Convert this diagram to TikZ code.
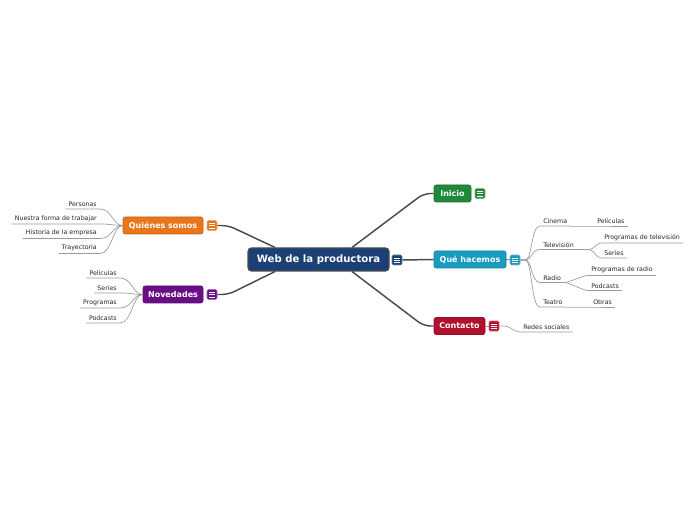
\documentclass[tikz,border=0pt]{standalone}
\usepackage{fontspec}
\setmainfont{DejaVu Sans}
\usetikzlibrary{calc}
\definecolor{rootblue}{RGB}{27,64,117}
\definecolor{inigreen}{RGB}{31,136,58}
\definecolor{qhteal}{RGB}{25,155,192}
\definecolor{ctred}{RGB}{176,17,45}
\definecolor{qsorange}{RGB}{233,118,26}
\definecolor{nvpurple}{RGB}{106,14,134}
\definecolor{linkgray}{RGB}{75,75,75}
\definecolor{twiggray}{RGB}{155,155,155}

\tikzset{
  topic/.style={fill=#1, draw=#1!85!black, rounded corners=1.5pt, text=white,
    font=\bfseries\fontsize{6}{7}\selectfont, minimum height=12.75pt, inner sep=0pt},
  icon/.style={fill=#1, draw=#1!60!white, rounded corners=1pt, minimum size=7.5pt, inner sep=0pt,
    path picture={\foreach \k in {-1.7,0,1.7}
      \draw[white, line width=0.3pt] ([shift={(-2.1pt,\k pt)}]path picture bounding box.center)
        -- ([shift={(2.1pt,\k pt)}]path picture bounding box.center);}},
  sub/.style={font=\fontsize{4.7}{5.5}\selectfont, text=black!85, inner xsep=2.25pt, inner ysep=1.6pt},
  link/.style={draw=linkgray, line width=1.1pt},
  twig/.style={draw=twiggray, line width=0.5pt}
}

\begin{document}
\begin{tikzpicture}[x=0.75pt, y=-0.75pt]
  \useasboundingbox[fill=white] (0,0) rectangle (696,520);

  % central topic
  \node[topic=rootblue, draw=black!70, line width=0.8pt, rounded corners=2.5pt, minimum width=105.75pt,
    minimum height=17.25pt, font=\bfseries\fontsize{7.6}{9}\selectfont] (root) at (318.5,259.5) {Web de la productora};
  \node[icon=rootblue] (rooti) at (397,260) {};

  % main topics
  \node[topic=inigreen, minimum width=27.75pt] (ini) at (452.5,193.5) {Inicio};
  \node[icon=inigreen] (inii) at (480,193.5) {};
  \node[topic=qhteal, minimum width=54pt] (qh) at (470,259.5) {Qué hacemos};
  \node[icon=qhteal] (qhi) at (515,260) {};
  \node[topic=ctred, minimum width=38.25pt] (ct) at (459.5,326) {Contacto};
  \node[icon=ctred] (cti) at (494,326) {};
  \node[topic=qsorange, minimum width=60pt] (qs) at (163,225.5) {Quiénes somos};
  \node[icon=qsorange] (qsi) at (212,225.5) {};
  \node[topic=nvpurple, minimum width=45pt] (nv) at (173,294.5) {Novedades};
  \node[icon=nvpurple] (nvi) at (212,294.5) {};

  \draw[link, rounded corners=5pt] ($(root.north)+(33.5,0)$) -- ($(ini.west)+(-10,0)$) -- (ini.west);
  \draw[link] (rooti.east) -- (qh.west);
  \draw[link, rounded corners=5pt] ($(root.south)+(33.5,0)$) -- ($(ct.west)+(-10,0)$) -- (ct.west);
  \draw[link, rounded corners=5pt] ($(root.north)+(-43.5,0)$) -- ($(qsi.east)+(11,0)$) -- (qsi.east);
  \draw[link, rounded corners=5pt] ($(root.south)+(-43.5,0)$) -- ($(nvi.east)+(11,0)$) -- (nvi.east);
  \draw[twig, draw=linkgray] (qh.east) -- (qhi.west);
  \draw[twig] (ct.east) -- (cti.west);

  % Quiénes somos
  \node[sub, anchor=south east] (pers) at (100,209) {Personas};
  \node[sub, anchor=south east] (forma) at (100,224) {Nuestra forma de trabajar};
  \node[sub, anchor=south east] (hist) at (100,238.5) {Historia de la empresa};
  \node[sub, anchor=south east] (tray) at (100,253.5) {Trayectoria};
  \foreach \n in {pers,forma,hist,tray}
    \draw[twig] (\n.south west) -- (\n.south east) .. controls +(12,0) and +(-10,0) .. (qs.west);

  % Novedades
  \node[sub, anchor=south east] (npel) at (120,278) {Películas};
  \node[sub, anchor=south east] (nser) at (120,293) {Series};
  \node[sub, anchor=south east] (nprog) at (120,308) {Programas};
  \node[sub, anchor=south east] (npod) at (120,323) {Podcasts};
  \foreach \n in {npel,nser,nprog,npod}
    \draw[twig] (\n.south west) -- (\n.south east) .. controls +(12,0) and +(-10,0) .. (nv.west);

  % Qué hacemos
  \node[sub, anchor=south west] (cin) at (540,226) {Cinema};
  \node[sub, anchor=south west] (tel) at (540,249.5) {Televisión};
  \node[sub, anchor=south west] (rad) at (540,282.5) {Radio};
  \node[sub, anchor=south west] (tea) at (540,307) {Teatro};
  \foreach \n in {cin,tel,rad,tea}
    \draw[twig] (qhi.east) -- ++(5,0) .. controls +(7,0) and +(-9,0) .. (\n.south west) -- (\n.south east);

  \node[sub, anchor=south west] (pel) at (594,226) {Películas};
  \node[sub, anchor=south west] (ptv) at (601,243) {Programas de televisión};
  \node[sub, anchor=south west] (ser) at (601,258) {Series};
  \node[sub, anchor=south west] (prad) at (588,275.5) {Programas de radio};
  \node[sub, anchor=south west] (pod) at (588,290.5) {Podcasts};
  \node[sub, anchor=south west] (obr) at (590,307) {Obras};
  \draw[twig] (cin.south east) -- (pel.south west) -- (pel.south east);
  \draw[twig] (tea.south east) -- (obr.south west) -- (obr.south east);
  \foreach \n in {ptv,ser}
    \draw[twig] (tel.south east) -- ++(12,0) .. controls +(5,0) and +(-5,0) .. (\n.south west) -- (\n.south east);
  \foreach \n in {prad,pod}
    \draw[twig] (rad.south east) .. controls +(5,0) and +(-5,0) .. (\n.south west) -- (\n.south east);

  % Contacto
  \node[sub, anchor=south west] (red) at (520,332) {Redes sociales};
  \draw[twig] (cti.east) -- ++(5,0) .. controls +(6,0) and +(-6,0) .. (red.south west) -- (red.south east);
\end{tikzpicture}
\end{document}
